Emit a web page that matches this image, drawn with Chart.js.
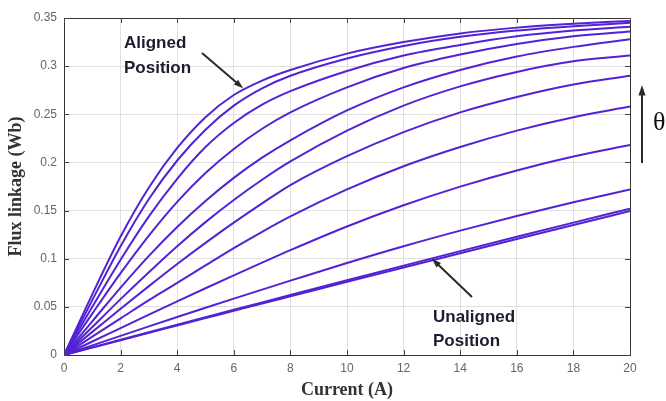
<!DOCTYPE html>
<html>
<head>
<meta charset="utf-8">
<script src="https://cdn.jsdelivr.net/npm/chart.js@4/dist/chart.umd.min.js"></script>
<style>
  html, body { margin: 0; padding: 0; background: #fff; }
</style>
</head>
<body>
<canvas id="fluxChart" width="666" height="401"></canvas>
<script>
// current samples (A)
const current = [0, 1, 2, 3, 4, 5, 6, 7, 8, 10, 12, 14, 16, 18, 20];

// flux linkage (Wb), aligned position first, unaligned last
const flux1 = [0, 0.063, 0.123, 0.174, 0.215, 0.247, 0.270, 0.285, 0.296, 0.313, 0.325, 0.334, 0.340, 0.344, 0.347];
const flux2 = [0, 0.057, 0.113, 0.162, 0.202, 0.234, 0.259, 0.277, 0.290, 0.308, 0.321, 0.3305, 0.337, 0.3415, 0.345];
const flux3 = [0, 0.050, 0.099, 0.144, 0.183, 0.216, 0.241, 0.260, 0.274, 0.295, 0.311, 0.322, 0.331, 0.337, 0.341];
const flux4 = [0, 0.043, 0.085, 0.124, 0.159, 0.189, 0.214, 0.235, 0.252, 0.278, 0.298, 0.312, 0.323, 0.331, 0.336];
const flux5 = [0, 0.035, 0.070, 0.103, 0.133, 0.160, 0.184, 0.205, 0.223, 0.254, 0.278, 0.296, 0.310, 0.320, 0.328];
const flux6 = [0, 0.029, 0.058, 0.086, 0.113, 0.138, 0.161, 0.182, 0.201, 0.233, 0.259, 0.279, 0.294, 0.305, 0.311];
const flux7 = [0, 0.024, 0.048, 0.0715, 0.0945, 0.1165, 0.1375, 0.1575, 0.1765, 0.2065, 0.2315, 0.252, 0.268, 0.281, 0.290];
const flux8 = [0, 0.019, 0.038, 0.057, 0.075, 0.093, 0.111, 0.128, 0.144, 0.172, 0.196, 0.216, 0.233, 0.247, 0.258];
const flux9 = [0, 0.014, 0.028, 0.042, 0.0557, 0.0693, 0.0827, 0.0959, 0.1089, 0.1335, 0.1555, 0.1749, 0.1917, 0.2061, 0.218];
const flux10 = [0, 0.010, 0.0199, 0.0297, 0.0394, 0.049, 0.0585, 0.0679, 0.0772, 0.0956, 0.113, 0.1292, 0.1444, 0.1586, 0.172];
const flux11 = [0, 0.0079, 0.0158, 0.0236, 0.0314, 0.0392, 0.0469, 0.0546, 0.0623, 0.0776, 0.0928, 0.1079, 0.1228, 0.1375, 0.152];
const flux12 = [0, 0.0077, 0.0154, 0.0231, 0.0307, 0.0383, 0.0459, 0.0535, 0.0610, 0.0760, 0.0909, 0.1057, 0.1204, 0.1350, 0.1495];

const allFlux = [flux1, flux2, flux3, flux4, flux5, flux6, flux7, flux8, flux9, flux10, flux11, flux12];

const xTicks = [0, 2, 4, 6, 8, 10, 12, 14, 16, 18, 20];
const yTicks = [0, 0.05, 0.1, 0.15, 0.2, 0.25, 0.3, 0.35];

const alignedLabel = ['Aligned', 'Position'];
const unalignedLabel = ['Unaligned', 'Position'];

const lineColor = '#5322d4';
const tickFont = { family: 'Liberation Sans, Arial, sans-serif', size: 12 };
const titleFont = { family: 'Liberation Serif, Times New Roman, serif', size: 18, weight: 'bold' };

function arrow(ctx, x1, y1, x2, y2, head) {
    const ang = Math.atan2(y2 - y1, x2 - x1);
    ctx.beginPath();
    ctx.moveTo(x1, y1);
    ctx.lineTo(x2 - Math.cos(ang) * head * 0.8, y2 - Math.sin(ang) * head * 0.8);
    ctx.stroke();
    ctx.beginPath();
    ctx.moveTo(x2, y2);
    ctx.lineTo(x2 - head * Math.cos(ang - 0.33), y2 - head * Math.sin(ang - 0.33));
    ctx.lineTo(x2 - head * Math.cos(ang + 0.33), y2 - head * Math.sin(ang + 0.33));
    ctx.closePath();
    ctx.fill();
}

const boxPlugin = {
    id: 'matlabBox',
    afterDraw: (chart) => {
        const { ctx, chartArea: a, scales } = chart;
        const xs = scales.x, ys = scales.y;
        ctx.save();
        // full box
        ctx.strokeStyle = '#333';
        ctx.lineWidth = 1;
        ctx.strokeRect(a.left + 0.5, a.top + 0.5, a.right - a.left, a.bottom - a.top);
        // inward ticks on every side
        ctx.strokeStyle = '#444';
        ctx.beginPath();
        xTicks.forEach(v => {
            const px = Math.round(xs.getPixelForValue(v)) + 0.5;
            ctx.moveTo(px, a.bottom); ctx.lineTo(px, a.bottom - 5);
            ctx.moveTo(px, a.top); ctx.lineTo(px, a.top + 5);
        });
        yTicks.forEach(v => {
            const py = Math.round(ys.getPixelForValue(v)) + 0.5;
            ctx.moveTo(a.left, py); ctx.lineTo(a.left + 5, py);
            ctx.moveTo(a.right, py); ctx.lineTo(a.right - 5, py);
        });
        ctx.stroke();

        // annotations
        ctx.fillStyle = '#1c1c30';
        ctx.font = 'bold 17px Liberation Sans, Arial, sans-serif';
        ctx.textAlign = 'left';
        ctx.textBaseline = 'alphabetic';
        ctx.fillText(alignedLabel[0], 124, 48);
        ctx.fillText(alignedLabel[1], 124, 73);
        ctx.fillText(unalignedLabel[0], 433, 322);
        ctx.fillText(unalignedLabel[1], 433, 346);

        ctx.strokeStyle = '#2a2a2a';
        ctx.fillStyle = '#2a2a2a';
        ctx.lineWidth = 2;
        arrow(ctx, 202, 53, xs.getPixelForValue(6.33), ys.getPixelForValue(0.277), 10);
        arrow(ctx, 472, 297, xs.getPixelForValue(13.0), ys.getPixelForValue(0.100), 10);
        arrow(ctx, 642, 163, 642, 85, 11);

        ctx.fillStyle = '#111';
        ctx.font = '26px Liberation Serif, Times New Roman, serif';
        ctx.textBaseline = 'middle';
        ctx.fillText('θ', 653, 123);
        ctx.restore();
    }
};

const datasets = allFlux.map(f => ({
    data: current.map((c, i) => ({ x: c, y: f[i] })),
    borderColor: lineColor,
    borderWidth: 2,
    pointRadius: 0,
    fill: false,
    cubicInterpolationMode: 'monotone',
}));

new Chart(document.getElementById('fluxChart').getContext('2d'), {
    type: 'line',
    data: { datasets },
    options: {
        responsive: false,
        animation: false,
        layout: { padding: { top: 18, right: 36, left: 0, bottom: 0 } },
        plugins: { legend: { display: false }, tooltip: { enabled: false } },
        scales: {
            x: {
                type: 'linear',
                min: 0,
                max: 20,
                afterFit: (s) => { s.height = 46; },
                afterBuildTicks: (s) => { s.ticks = xTicks.map(v => ({ value: v })); },
                ticks: { font: tickFont, color: '#666', padding: 6 },
                grid: { color: '#e0e0e0', drawTicks: false },
                border: { color: '#333' },
                title: { display: true, text: 'Current (A)', font: titleFont, color: '#333', padding: { top: 0, bottom: 0 } },
            },
            y: {
                min: 0,
                max: 0.35,
                afterFit: (s) => { s.width = 64; },
                afterBuildTicks: (s) => { s.ticks = yTicks.map(v => ({ value: v })); },
                ticks: {
                    font: tickFont,
                    color: '#666',
                    padding: 7,
                    callback: (v) => String(Math.round(v * 100) / 100),
                },
                grid: { color: '#e0e0e0', drawTicks: false },
                border: { color: '#333' },
                title: { display: true, text: 'Flux linkage (Wb)', font: titleFont, color: '#333', padding: { top: 6, bottom: 0 } },
            },
        },
    },
    plugins: [boxPlugin],
});
</script>
</body>
</html>
